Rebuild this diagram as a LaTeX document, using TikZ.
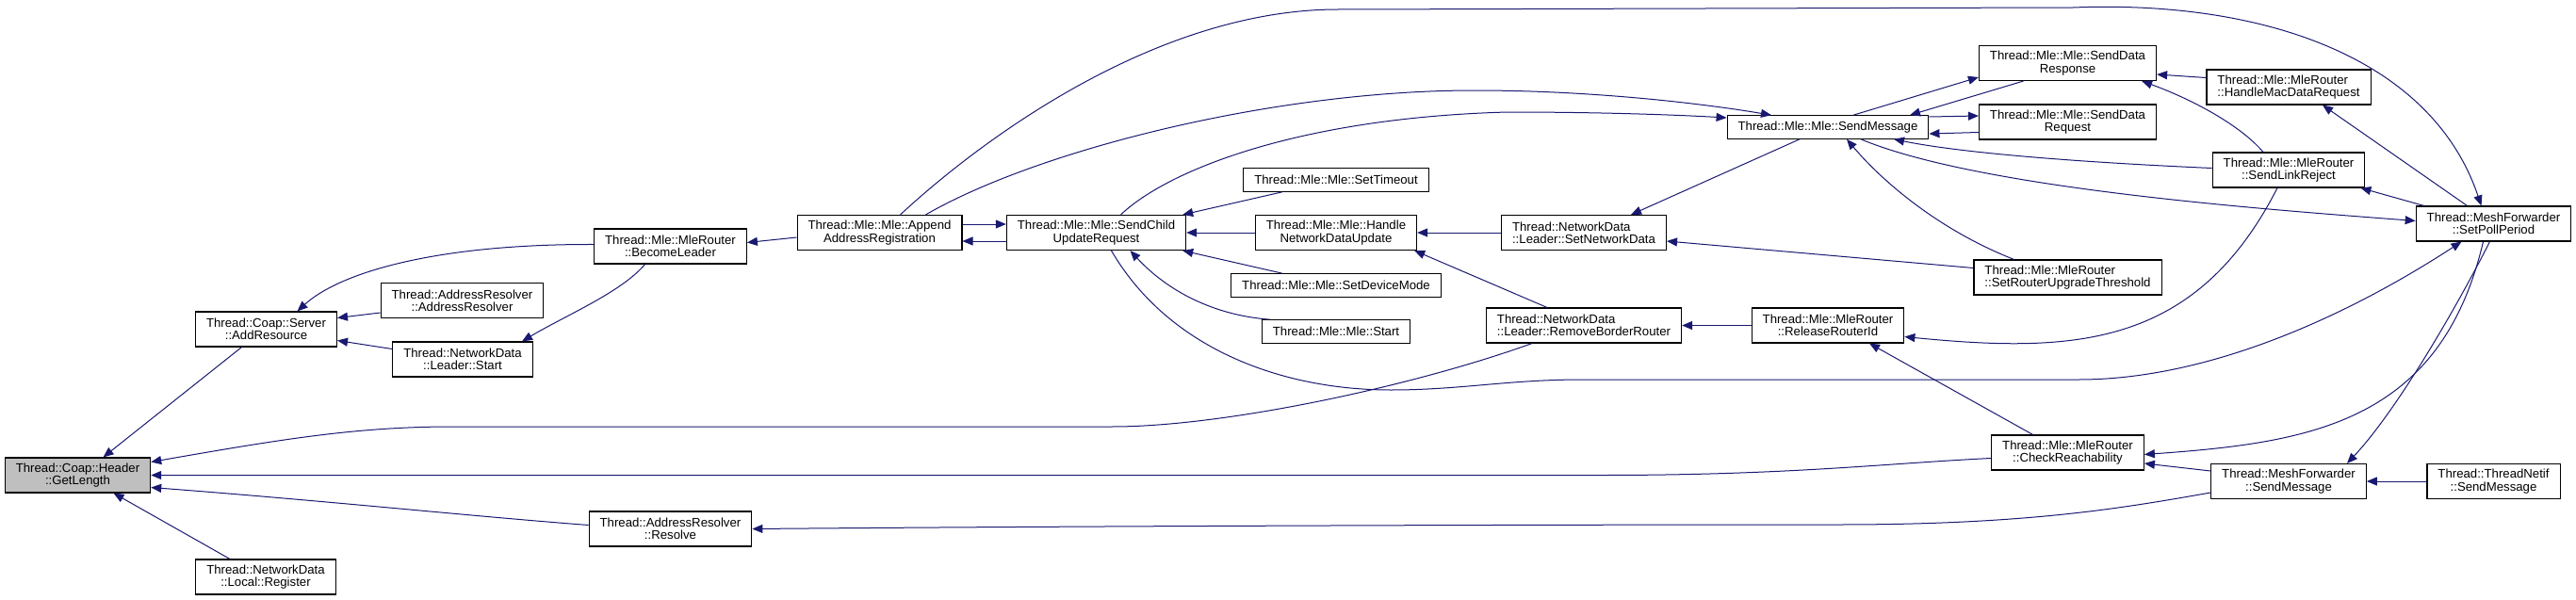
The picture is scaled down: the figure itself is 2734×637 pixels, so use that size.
\documentclass[tikz,border=0pt]{standalone}
\usepackage{fontspec}
\setmainfont{Liberation Sans}
\usetikzlibrary{arrows.meta,calc}
\definecolor{EdgeClr}{rgb}{0.1,0.1,0.44}
\definecolor{RootClr}{gray}{0.75}

\begin{document}
\begin{tikzpicture}[x=1pt,y=-1pt]
\tikzset{fnbox/.style={draw=black,line width=1.1pt,fill=white,align=center,
    inner xsep=11.5pt,inner ysep=0pt,minimum height=37pt,
    font=\fontsize{13.2pt}{13.4pt}\selectfont},
  fnline/.style={fnbox,minimum height=24.5pt},
  fnleft/.style={fnbox,align=left},
  calls/.style={draw=EdgeClr,line width=1pt,{Triangle[length=11pt,width=9pt]}-}}

\useasboundingbox (0,0) rectangle (2734,637);

% Define the boxes, one column of the graph after the other.
\node[fnbox,fill=RootClr] (getlen) at (82.5,504.5) {Thread::Coap::Header\\::GetLength};

\node[fnbox] (addres) at (282.5,349.5) {Thread::Coap::Server\\::AddResource};
\node[fnbox] (locreg) at (282,612.5) {Thread::NetworkData\\::Local::Register};

\node[fnbox] (addrres) at (490.5,319) {Thread::AddressResolver\\::AddressResolver};
\node[fnbox] (ldrstart) at (491,381.5) {Thread::NetworkData\\::Leader::Start};

\node[fnbox] (becleader) at (711.5,261.5) {Thread::Mle::MleRouter\\::BecomeLeader};
\node[fnbox] (resolve) at (711.5,561.5) {Thread::AddressResolver\\::Resolve};

\node[fnbox] (appaddr) at (933.5,247) {Thread::Mle::Mle::Append\\AddressRegistration};
\node[fnbox] (sendchild) at (1163.5,247) {Thread::Mle::Mle::SendChild\\UpdateRequest};

\node[fnline] (settimeout) at (1418,191) {Thread::Mle::Mle::SetTimeout};
\node[fnbox] (handlend) at (1418,247) {Thread::Mle::Mle::Handle\\NetworkDataUpdate};
\node[fnline] (setdevmode) at (1418,303) {Thread::Mle::Mle::SetDeviceMode};
\node[fnline] (mlestart) at (1418,352) {Thread::Mle::Mle::Start};

\node[fnleft] (setnetdata) at (1681,247) {Thread::NetworkData\\::Leader::SetNetworkData};
\node[fnleft] (rmborder) at (1681,345.5) {Thread::NetworkData\\::Leader::RemoveBorderRouter};

\node[fnline] (mlesend) at (1940,135) {Thread::Mle::Mle::SendMessage};
\node[fnbox] (relrouter) at (1940,345.5) {Thread::Mle::MleRouter\\::ReleaseRouterId};

\node[fnbox] (dataresp) at (2194.5,67) {Thread::Mle::Mle::SendData\\Response};
\node[fnbox] (datareq) at (2194.5,129.5) {Thread::Mle::Mle::SendData\\Request};
\node[fnleft] (upgrade) at (2194.5,294.5) {Thread::Mle::MleRouter\\::SetRouterUpgradeThreshold};
\node[fnbox] (checkreach) at (2194.5,480.5) {Thread::Mle::MleRouter\\::CheckReachability};

\node[fnleft] (macdata) at (2429,92.5) {Thread::Mle::MleRouter\\::HandleMacDataRequest};
\node[fnbox] (linkrej) at (2429,180.5) {Thread::Mle::MleRouter\\::SendLinkReject};
\node[fnbox] (meshsend) at (2429,511) {Thread::MeshForwarder\\::SendMessage};

\node[fnbox] (pollper) at (2646.5,237.5) {Thread::MeshForwarder\\::SetPollPeriod};
\node[fnbox] (netifsend) at (2646.5,511) {Thread::ThreadNetif\\::SendMessage};

% Callers of GetLength.
\draw[calls] ([xshift=27pt]getlen.north) -- ([xshift=-26pt]addres.south);
\draw[calls] ([xshift=38pt]getlen.south) -- ([xshift=-38pt]locreg.north);
\draw[calls] ([yshift=14pt]getlen.east) .. controls (300,466) and (380,453) .. (480,453)
  -- (1180,453) .. controls (1300,453) and (1500,410) .. ([xshift=-55pt]rmborder.south);
\draw[calls] (getlen.east) -- (1700,504.5) .. controls (1900,504.5) and (2000,492) .. ([yshift=-6pt]checkreach.west);
\draw[calls] ([yshift=-13pt]getlen.east) .. controls (350,532) and (500,548) .. ([yshift=4pt]resolve.west);

% Callers of AddResource and of Leader::Start.
\draw[calls] ([yshift=12pt]addres.east) -- ([yshift=-13pt]addrres.west);
\draw[calls] ([yshift=-12pt]addres.east) -- ([yshift=11pt]ldrstart.west);
\draw[calls] ([xshift=33pt]addres.north) .. controls (360,290) and (460,259) .. ([yshift=2pt]becleader.west);
\draw[calls] ([xshift=63pt]ldrstart.north) .. controls (600,335) and (660,310) .. ([xshift=-27pt]becleader.south);

% BecomeLeader, Resolve and AppendAddressRegistration.
\draw[calls] ([yshift=4pt]becleader.east) -- ([yshift=-5pt]appaddr.west);
\draw[calls] (resolve.east) .. controls (1200,558) and (1700,557) .. (1950,557)
  .. controls (2150,557) and (2250,540) .. ([yshift=-12pt]meshsend.west);
\draw[calls] ([yshift=-9pt]appaddr.east) -- ([yshift=-9pt]sendchild.west);
\draw[calls] ([yshift=9pt]sendchild.west) -- ([yshift=9pt]appaddr.east);

% Callers of SendChildUpdateRequest.
\draw[calls] ([xshift=-4pt]sendchild.north east) -- ([xshift=-57pt]settimeout.south);
\draw[calls] (sendchild.east) -- (handlend.west);
\draw[calls] ([xshift=-4pt]sendchild.south east) -- ([xshift=-57pt]setdevmode.north);
\draw[calls] ([xshift=36pt]sendchild.south) .. controls (1240,310) and (1290,335) .. ([xshift=-70pt]mlestart.north);
\draw[calls] ([xshift=-34pt]pollper.south) .. controls (2500,330) and (2350,403) .. (2206,403)
  -- (1680,403) .. controls (1600,403) and (1550,414) .. (1476,414)
  .. controls (1360,414) and (1240,370) .. ([xshift=16pt]sendchild.south);

% The long edges along the top.
\draw[calls] ([yshift=10pt]mlesend.west) .. controls (1780,122) and (1700,119) .. (1600,119)
  .. controls (1380,125) and (1240,180) .. ([xshift=26pt]sendchild.north);
\draw[calls] ([xshift=-13pt]pollper.north) .. controls (2580,60) and (2400,0) .. (2200,8)
  -- (1420,10) .. controls (1230,10) and (1045,145) .. ([xshift=22pt]appaddr.north);
\draw[calls] ([xshift=-60pt]mlesend.north) .. controls (1820,112) and (1700,96) .. (1565,96)
  .. controls (1350,96) and (1100,160) .. ([xshift=49pt]appaddr.north);

% NetworkData part.
\draw[calls] ([xshift=50pt]setnetdata.north) -- ([xshift=-30pt]mlesend.south);
\draw[calls] (handlend.east) -- (setnetdata.west);
\draw[calls] ([xshift=-3pt]handlend.south east) -- ([xshift=-39pt]rmborder.north);
\draw[calls] ([yshift=-9pt]setnetdata.east) -- ([yshift=10pt]upgrade.west);
\draw[calls] (rmborder.east) -- (relrouter.west);

% Around Mle::SendMessage.
\draw[calls] ([xshift=87pt]mlesend.north) -- ([xshift=-47pt]dataresp.south);
\draw[calls] ([yshift=-15pt]dataresp.west) -- ([xshift=27pt]mlesend.north);
\draw[calls] ([yshift=6.5pt]datareq.west) -- ([yshift=11pt]mlesend.east);
\draw[calls] ([yshift=-7pt]mlesend.east) -- ([yshift=-11pt]datareq.west);
\draw[calls] ([xshift=70pt]mlesend.south) .. controls (2080,162) and (2200,172) .. ([yshift=2pt]linkrej.west);
\draw[calls] ([yshift=3pt]pollper.west) .. controls (2400,222) and (2100,200) .. ([xshift=35pt]mlesend.south);
\draw[calls] ([xshift=20pt]mlesend.south) .. controls (2000,195) and (2060,245) .. ([xshift=-57pt]upgrade.north);

% MleRouter and MeshForwarder part.
\draw[calls] ([yshift=-12pt]dataresp.east) -- ([yshift=10pt]macdata.west);
\draw[calls] ([xshift=-16pt]dataresp.south east) .. controls (2320,103) and (2375,130) .. ([xshift=-27pt]linkrej.north);
\draw[calls] ([xshift=36pt]macdata.south) -- ([xshift=-28pt]pollper.north);
\draw[calls] ([xshift=-5pt]linkrej.south east) -- ([xshift=9pt]pollper.north west);
\draw[calls] ([yshift=-12pt]relrouter.east) .. controls (2200,375) and (2330,370) .. ([xshift=-12pt]linkrej.south);
\draw[calls] ([xshift=44pt]relrouter.south) -- ([xshift=-37pt]checkreach.north);
\draw[calls] ([yshift=-2pt]checkreach.east) .. controls (2450,470) and (2590,450) .. ([xshift=-11pt]pollper.south);
\draw[calls] ([yshift=-11.5pt]checkreach.east) -- ([yshift=11pt]meshsend.west);
\draw[calls] ([xshift=62pt]meshsend.north) .. controls (2540,440) and (2600,340) .. ([xshift=-4pt]pollper.south);
\draw[calls] (meshsend.east) -- (netifsend.west);

\end{tikzpicture}
\end{document}
